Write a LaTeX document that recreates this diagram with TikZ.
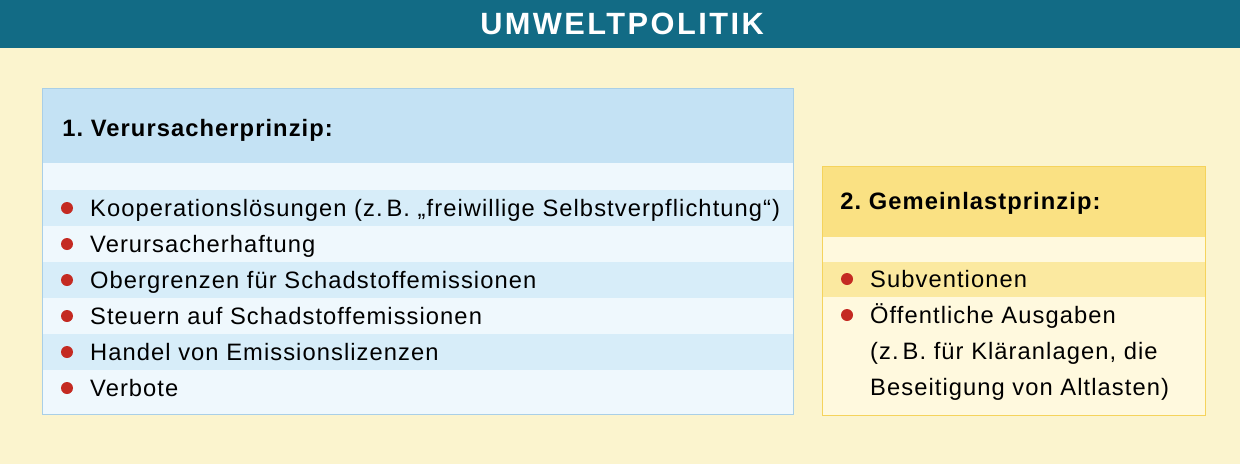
\documentclass[tikz,border=0pt]{standalone}
\usepackage{fontspec}
\setmainfont{Liberation Sans}
\usetikzlibrary{positioning}
\definecolor{bgyellow}{HTML}{FBF4CE}
\definecolor{barteal}{HTML}{126B85}
\definecolor{bluehead}{HTML}{C4E2F4}
\definecolor{bluerow}{HTML}{D7EDF9}
\definecolor{bluewhite}{HTML}{EFF8FD}
\definecolor{blueline}{HTML}{A9CFE7}
\definecolor{yellowhead}{HTML}{FAE183}
\definecolor{yellowrow}{HTML}{FBE9A0}
\definecolor{yellowwhite}{HTML}{FFF9DE}
\definecolor{yellowline}{HTML}{F5D35C}
\definecolor{dotred}{HTML}{C42A22}
\tikzset{
  titletext/.style={text=white,inner sep=0pt,font=\fontsize{17.5}{20}\selectfont\bfseries\addfontfeatures{LetterSpace=8}},
  lbox/.style={draw=blueline,fill=bluewhite,rectangle,anchor=north west,inner sep=0pt},
  rbox/.style={draw=yellowline,fill=yellowwhite,rectangle,anchor=north west,inner sep=0pt},
  head/.style={anchor=west,inner sep=0pt,text height=12.5pt,text depth=3pt,font=\fontsize{13.5}{17}\selectfont\bfseries\addfontfeatures{LetterSpace=4.5}},
  item/.style={anchor=west,inner sep=0pt,text height=12.5pt,text depth=3pt,font=\fontsize{13.5}{17}\selectfont\addfontfeatures{LetterSpace=4.5}},
  dot/.style={circle,fill=dotred,minimum size=0.24cm,inner sep=0pt}
}
\begin{document}
\begin{tikzpicture}[x=0.02cm,y=-0.02cm,node distance=0.33cm]
\useasboundingbox[fill=bgyellow] (0,0) rectangle (1240,464);

% title bar
\fill[barteal] (0,0) rectangle (1240,48);
\node[titletext] (title) at (622,24) {UMWELTPOLITIK};

% 1. Verursacherprinzip
\node[lbox,minimum width=15.02cm,minimum height=6.52cm] (vbox) at (42,88) {};
\fill[bluehead] (vbox.north west) rectangle (793,163);
\foreach \r in {0,2,4}
  \fill[bluerow] (42,{190+36*\r}) rectangle (793,{226+36*\r});
\draw[blueline] (vbox.north west) rectangle (vbox.south east);
\node[head] (vhead) at (62,128) {1.\ Verursacherprinzip:};
\foreach \txt [count=\i from 0] in {%
  Kooperationslösungen (z.\,B. „freiwillige Selbstverpflichtung“),
  Verursacherhaftung,
  Obergrenzen für Schadstoffemissionen,
  Steuern auf Schadstoffemissionen,
  Handel von Emissionslizenzen,
  Verbote}
{
  \node[dot] (vdot\i) at (67,{208+36*\i}) {};
  \node[item,right=of vdot\i] (vitem\i) {\txt};
}

% 2. Gemeinlastprinzip
\node[rbox,minimum width=7.66cm,minimum height=4.98cm] (gbox) at (822,166) {};
\fill[yellowhead] (gbox.north west) rectangle (1205,237);
\fill[yellowrow] (822,262) rectangle (1205,297);
\draw[yellowline] (gbox.north west) rectangle (gbox.south east);
\node[head] (ghead) at (840,201) {2.\ Gemeinlastprinzip:};
\node[dot] (gdot0) at (847,279) {};
\node[item,right=of gdot0] (gitem0) {Subventionen};
\node[dot] (gdot1) at (847,315) {};
\node[item,right=of gdot1] (gitem1) {Öffentliche Ausgaben};
\node[item] (gitem2) at ([yshift=-0.72cm]gitem1.west) {(z.\,B. für Kläranlagen, die};
\node[item] (gitem3) at ([yshift=-0.72cm]gitem2.west) {Beseitigung von Altlasten)};

\end{tikzpicture}
\end{document}
